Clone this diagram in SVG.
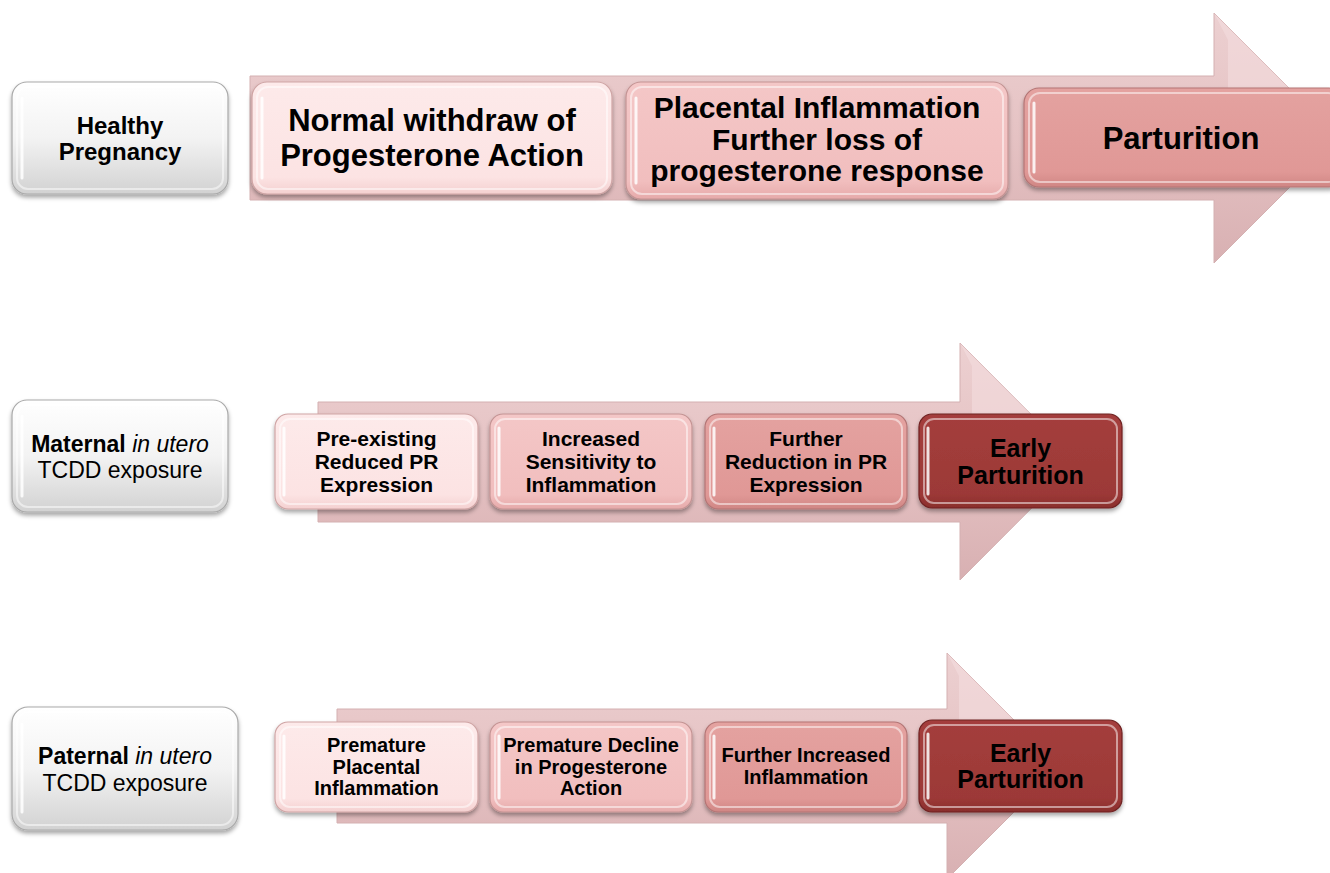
<svg xmlns="http://www.w3.org/2000/svg" width="1330" height="873" viewBox="0 0 1330 873">
<style>
  text { font-family: "Liberation Sans", Arial, sans-serif; fill: #000; text-anchor: middle; }
  .b { font-weight: bold; }
  .box { stroke-width: 1.2; filter: url(#sh); }
  .hl { fill: none; stroke: #ffffff; stroke-opacity: 0.5; stroke-width: 2; }
  .bar { stroke: #ffffff; stroke-opacity: 0.85; stroke-width: 3; stroke-linecap: round; }
  .gray { fill: url(#gGray); stroke: #a9a9a9; }
  .c1 { fill: url(#g1); stroke: #cfa5a5; }
  .c2 { fill: url(#g2); stroke: #c49494; }
  .c3 { fill: url(#g3); stroke: #b37575; }
  .c4 { fill: url(#g4); stroke: #6e2222; }
  .arrow { fill: url(#gArrow); stroke: #d4b0b1; stroke-width: 1; }
  .bevel { fill: #f4dfe0; opacity: 0.55; }
</style>
<defs>
  <filter id="sh" x="-10%" y="-10%" width="120%" height="130%">
    <feDropShadow dx="0" dy="3" stdDeviation="2.2" flood-color="#000" flood-opacity="0.35"/>
  </filter>
  <linearGradient id="gGray" x1="0" y1="0" x2="0" y2="1">
    <stop offset="0" stop-color="#ffffff"/>
    <stop offset="0.5" stop-color="#f3f3f3"/>
    <stop offset="1" stop-color="#d2d2d2"/>
  </linearGradient>
  <linearGradient id="g1" x1="0" y1="0" x2="0" y2="1">
    <stop offset="0" stop-color="#fdeaea"/>
    <stop offset="0.85" stop-color="#fce3e3"/>
    <stop offset="1" stop-color="#f4d0d0"/>
  </linearGradient>
  <linearGradient id="g2" x1="0" y1="0" x2="0" y2="1">
    <stop offset="0" stop-color="#f4c7c7"/>
    <stop offset="0.85" stop-color="#f1bebe"/>
    <stop offset="1" stop-color="#e6aaaa"/>
  </linearGradient>
  <linearGradient id="g3" x1="0" y1="0" x2="0" y2="1">
    <stop offset="0" stop-color="#e4a2a0"/>
    <stop offset="0.85" stop-color="#e09896"/>
    <stop offset="1" stop-color="#d08684"/>
  </linearGradient>
  <linearGradient id="g4" x1="0" y1="0" x2="0" y2="1">
    <stop offset="0" stop-color="#a43e3c"/>
    <stop offset="0.85" stop-color="#9c3937"/>
    <stop offset="1" stop-color="#8a2e2c"/>
  </linearGradient>
  <linearGradient id="gArrow" x1="0" y1="0" x2="0" y2="1">
    <stop offset="0" stop-color="#ecd0d1"/>
    <stop offset="0.5" stop-color="#e5c2c3"/>
    <stop offset="1" stop-color="#d8b0b2"/>
  </linearGradient>
</defs>

<g id="connectors">
  <path class="arrow" d="M250,76 H1214 V13 L1339,138 L1214,263 V200 H250 Z"/>
  <path class="bevel" d="M1214,13 L1339,138 L1228,138 L1228,40 Z"/>
  <path class="arrow" d="M318,402 H960 V343 L1078,461.5 L960,580 V522 H318 Z"/>
  <path class="bevel" d="M960,343 L1078,461.5 L972,461.5 L972,366 Z"/>
  <path class="arrow" d="M337,709 H947 V653 L1060,766 L947,879 V823 H337 Z"/>
  <path class="bevel" d="M947,653 L1060,766 L959,766 L959,676 Z"/>
</g>

<!-- Row 1 -->
<g id="healthy">
  <rect class="box gray" x="12" y="82" width="216" height="112" rx="15"/>
  <rect class="hl" x="17" y="87" width="206" height="102" rx="11"/>
  <line class="bar" x1="22" y1="98" x2="22" y2="178"/>
  <text class="b" x="120" y="134" font-size="24">Healthy</text>
  <text class="b" x="120" y="160" font-size="24">Pregnancy</text>
</g>
<g id="normal-withdraw">
  <rect class="box c1" x="252" y="82" width="360" height="112" rx="15"/>
  <rect class="hl" x="257" y="87" width="350" height="102" rx="11"/>
  <line class="bar" x1="262" y1="98" x2="262" y2="178"/>
  <text class="b" x="432" y="131" font-size="31">Normal withdraw of</text>
  <text class="b" x="432" y="166" font-size="31">Progesterone Action</text>
</g>
<g id="placental-inflammation">
  <rect class="box c2" x="626" y="82" width="382" height="117" rx="15"/>
  <rect class="hl" x="631" y="87" width="372" height="107" rx="11"/>
  <line class="bar" x1="636" y1="98" x2="636" y2="183"/>
  <text class="b" x="817" y="118" font-size="30">Placental Inflammation</text>
  <text class="b" x="817" y="150" font-size="30">Further loss of</text>
  <text class="b" x="817" y="181" font-size="30">progesterone response</text>
</g>
<g id="parturition">
  <rect class="box c3" x="1024" y="88" width="320" height="99" rx="15"/>
  <rect class="hl" x="1029" y="93" width="310" height="89" rx="11"/>
  <line class="bar" x1="1034" y1="103" x2="1034" y2="172"/>
  <text class="b" x="1181" y="149" font-size="31">Parturition</text>
</g>

<!-- Row 2 -->
<g id="maternal">
  <rect class="box gray" x="12" y="400" width="216" height="112" rx="15"/>
  <rect class="hl" x="17" y="405" width="206" height="102" rx="11"/>
  <line class="bar" x1="22" y1="416" x2="22" y2="496"/>
  <text x="120" y="452" font-size="23"><tspan font-weight="bold">Maternal</tspan> <tspan font-style="italic">in utero</tspan></text>
  <text x="120" y="478" font-size="23">TCDD exposure</text>
</g>
<g id="m-preexisting">
  <rect class="box c1" x="275" y="414" width="203" height="95" rx="13"/>
  <rect class="hl" x="280" y="419" width="193" height="85" rx="10"/>
  <line class="bar" x1="284" y1="428" x2="284" y2="495"/>
  <text class="b" x="376.5" y="446" font-size="21">Pre-existing</text>
  <text class="b" x="376.5" y="469" font-size="21">Reduced PR</text>
  <text class="b" x="376.5" y="492" font-size="21">Expression</text>
</g>
<g id="m-sensitivity">
  <rect class="box c2" x="490" y="414" width="202" height="95" rx="13"/>
  <rect class="hl" x="495" y="419" width="192" height="85" rx="10"/>
  <line class="bar" x1="499" y1="428" x2="499" y2="495"/>
  <text class="b" x="591" y="446" font-size="21">Increased</text>
  <text class="b" x="591" y="469" font-size="21">Sensitivity to</text>
  <text class="b" x="591" y="492" font-size="21">Inflammation</text>
</g>
<g id="m-further-reduction">
  <rect class="box c3" x="705" y="414" width="202" height="95" rx="13"/>
  <rect class="hl" x="710" y="419" width="192" height="85" rx="10"/>
  <line class="bar" x1="714" y1="428" x2="714" y2="495"/>
  <text class="b" x="806" y="446" font-size="21">Further</text>
  <text class="b" x="806" y="469" font-size="21">Reduction in PR</text>
  <text class="b" x="806" y="492" font-size="21">Expression</text>
</g>
<g id="m-early">
  <rect class="box c4" x="919" y="414" width="203" height="94" rx="13"/>
  <rect class="hl" x="924" y="419" width="193" height="84" rx="10" stroke-opacity="0.25"/>
  <line class="bar" x1="928" y1="428" x2="928" y2="494" stroke-opacity="0.5"/>
  <text class="b" x="1020.5" y="457" font-size="25">Early</text>
  <text class="b" x="1020.5" y="484" font-size="25">Parturition</text>
</g>

<!-- Row 3 -->
<g id="paternal">
  <rect class="box gray" x="12" y="707" width="226" height="123" rx="16"/>
  <rect class="hl" x="17" y="712" width="216" height="113" rx="12"/>
  <line class="bar" x1="22" y1="724" x2="22" y2="812"/>
  <text x="125" y="764" font-size="23"><tspan font-weight="bold">Paternal</tspan> <tspan font-style="italic">in utero</tspan></text>
  <text x="125" y="791" font-size="23">TCDD exposure</text>
</g>
<g id="p-premature-inflammation">
  <rect class="box c1" x="275" y="722" width="203" height="90" rx="13"/>
  <rect class="hl" x="280" y="727" width="193" height="80" rx="10"/>
  <line class="bar" x1="284" y1="736" x2="284" y2="798"/>
  <text class="b" x="376.5" y="752" font-size="20">Premature</text>
  <text class="b" x="376.5" y="774" font-size="20">Placental</text>
  <text class="b" x="376.5" y="795" font-size="20">Inflammation</text>
</g>
<g id="p-premature-decline">
  <rect class="box c2" x="490" y="722" width="202" height="90" rx="13"/>
  <rect class="hl" x="495" y="727" width="192" height="80" rx="10"/>
  <line class="bar" x1="499" y1="736" x2="499" y2="798"/>
  <text class="b" x="591" y="752" font-size="20">Premature Decline</text>
  <text class="b" x="591" y="774" font-size="20">in Progesterone</text>
  <text class="b" x="591" y="795" font-size="20">Action</text>
</g>
<g id="p-further-inflammation">
  <rect class="box c3" x="705" y="722" width="202" height="90" rx="13"/>
  <rect class="hl" x="710" y="727" width="192" height="80" rx="10"/>
  <line class="bar" x1="714" y1="736" x2="714" y2="798"/>
  <text class="b" x="806" y="762" font-size="20">Further Increased</text>
  <text class="b" x="806" y="784" font-size="20">Inflammation</text>
</g>
<g id="p-early">
  <rect class="box c4" x="919" y="720" width="203" height="92" rx="13"/>
  <rect class="hl" x="924" y="725" width="193" height="82" rx="10" stroke-opacity="0.25"/>
  <line class="bar" x1="928" y1="734" x2="928" y2="798" stroke-opacity="0.5"/>
  <text class="b" x="1020.5" y="762" font-size="25">Early</text>
  <text class="b" x="1020.5" y="788" font-size="25">Parturition</text>
</g>
</svg>
